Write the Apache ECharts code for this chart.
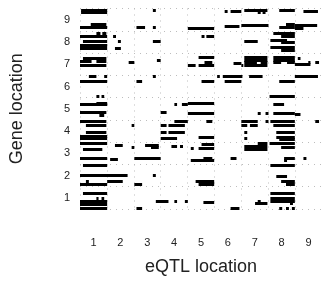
<!DOCTYPE html>
<html>
<head>
<meta charset="utf-8">
<script src="https://cdn.jsdelivr.net/npm/echarts@6/dist/echarts.min.js"></script>
<style>html,body{margin:0;padding:0;background:#fff;}#c{width:322px;height:281px;}</style>
</head>
<body>
<div id="c"></div>
<script>
// Tick labels (chromosomes)
const xLabels = ['1','2','3','4','5','6','7','8','9'];
const yLabels = ['1','2','3','4','5','6','7','8','9'];

// eQTL segments: start / end on the eQTL-location axis, gene location on the vertical axis
const eqtlStart = [
0.04,0.04,2.71,6.11,7.41,8.31,5.38,5.60,6.61,6.79,
0.40,0.00,2.10,2.71,4.01,5.38,6.00,7.41,7.66,7.99,
7.99,0.61,0.83,0.00,1.23,4.52,4.70,7.19,7.48,0.11,
1.41,2.71,6.11,7.08,7.48,0.00,0.00,1.30,7.08,7.48,
0.11,0.00,0.61,0.00,1.81,2.86,4.01,4.41,4.63,4.41,
5.71,6.00,6.11,6.11,6.11,6.72,6.11,7.19,7.19,7.19,
7.70,8.10,7.99,8.49,8.75,0.33,0.90,2.71,5.10,5.31,
6.29,7.99,0.00,2.10,4.52,5.38,7.41,0.61,0.80,7.05,
0.61,0.00,3.51,3.79,4.01,7.19,0.00,0.72,3.00,4.01,
6.61,6.90,7.19,7.99,0.00,3.51,4.70,6.00,6.90,7.08,
8.75,0.22,1.92,3.00,3.29,6.00,6.32,7.19,0.22,3.00,
3.29,6.11,7.30,0.00,0.00,3.00,4.41,6.11,7.30,7.41,
0.00,1.30,1.92,2.42,2.64,3.40,3.72,4.52,4.12,4.41,
6.61,6.11,6.11,7.05,7.48,0.11,0.00,1.12,2.02,4.12,
4.59,5.60,7.59,7.59,8.31,0.11,7.08,0.00,2.71,7.30,
0.22,1.01,4.30,7.48,0.00,2.02,4.41,7.66,0.11,7.08,
0.61,0.80,0.00,0.00,2.82,3.51,3.90,4.59,6.61,6.51,
7.08,7.08,7.81,0.00,2.10,5.60,7.41,7.66,7.88
];
const eqtlEnd = [
1.01,1.01,2.82,6.97,7.99,8.85,5.49,6.00,6.72,6.90,
0.98,1.01,2.42,2.82,4.99,5.93,7.01,7.99,7.99,8.82,
8.31,0.76,0.98,1.01,1.34,4.63,4.99,7.99,7.99,1.01,
1.52,3.00,6.61,7.70,7.99,1.01,1.01,1.52,7.99,7.99,
0.98,0.43,0.98,0.98,2.02,3.00,4.30,4.99,4.92,4.99,
6.00,6.07,6.97,6.97,6.58,6.97,6.97,7.99,7.99,7.48,
7.99,8.20,8.57,8.57,8.89,0.61,1.01,2.82,5.20,6.04,
6.79,8.85,1.01,2.31,4.99,6.00,7.99,0.72,0.90,7.99,
1.01,1.01,3.61,4.01,4.99,7.59,0.98,0.90,3.22,4.99,
6.72,7.01,7.99,8.20,0.98,4.01,4.92,6.61,7.01,7.99,
8.89,0.98,2.02,3.22,3.90,6.22,6.61,7.99,0.98,3.22,
3.90,6.22,7.99,1.01,1.01,3.61,4.99,6.22,7.99,7.99,
1.01,1.59,2.02,2.93,2.93,3.61,3.83,4.99,4.23,4.99,
6.97,6.97,6.97,7.99,7.99,0.83,1.01,1.41,3.00,4.99,
4.92,5.82,7.99,7.70,8.42,1.01,7.99,1.77,2.82,7.70,
0.33,1.59,4.99,7.99,1.01,2.31,4.99,7.99,1.01,7.99,
0.69,0.90,1.01,1.01,3.29,3.61,4.01,4.99,6.72,6.97,
7.99,7.99,7.92,1.01,2.31,5.93,7.52,7.77,7.99
];
const genePos = [
8.93,8.82,8.93,8.93,8.93,8.87,8.85,8.85,8.81,8.81,
8.27,8.14,8.16,8.16,8.08,8.17,8.25,8.16,8.27,8.25,
8.09,7.88,7.88,7.74,7.75,7.75,7.75,7.86,7.73,7.52,
7.52,7.53,7.51,7.58,7.47,7.32,7.21,7.19,7.25,7.12,
6.76,6.61,6.61,6.46,6.56,6.65,6.43,6.78,6.58,6.45,
6.55,6.45,6.78,6.67,6.56,6.56,6.46,6.78,6.67,6.56,
6.56,6.76,6.48,6.58,6.56,5.96,5.96,5.96,5.96,5.96,
5.96,5.96,5.74,5.74,5.74,5.74,5.74,5.03,5.03,5.04,
4.75,4.67,4.69,4.69,4.74,4.71,4.32,4.21,4.32,4.29,
4.29,4.29,4.29,4.26,3.95,3.94,3.92,3.92,3.92,3.95,
3.94,3.76,3.76,3.76,3.76,3.76,3.76,3.76,3.45,3.45,
3.45,3.45,3.45,3.26,3.16,3.16,3.23,3.16,3.23,3.11,
2.94,2.85,2.77,2.85,2.74,2.79,2.79,2.88,2.70,2.70,
2.94,2.79,2.66,2.94,2.77,2.68,2.25,2.21,2.25,2.17,
2.28,2.26,2.26,2.16,2.26,1.94,1.94,1.50,1.50,1.47,
1.25,1.25,1.25,1.25,1.08,1.08,1.08,1.08,0.70,0.70,
0.46,0.46,0.34,0.22,0.34,0.34,0.34,0.28,0.34,0.25,
0.47,0.34,0.25,0.02,0.02,0.02,0.04,0.04,0.04
];

const segments = eqtlStart.map((s, i) => [s, eqtlEnd[i], genePos[i]]);

const FONT = 'Liberation Sans, Arial, sans-serif';
const chart = echarts.init(document.getElementById('c'), null, {renderer: 'canvas'});
const gridLine = {show: true, lineStyle: {color: '#bdbdbd', width: 1, type: [1, 5]}};

chart.setOption({
  animation: false,
  backgroundColor: '#fff',
  grid: {left: 76, top: 8.5, width: 249, height: 208.7, containLabel: false},
  xAxis: [
    {
      type: 'category', data: xLabels, boundaryGap: true,
      axisLine: {show: false}, axisTick: {show: false},
      axisLabel: {margin: 28, fontSize: 11, color: '#222', fontFamily: FONT},
      splitLine: gridLine,
      name: 'eQTL location', nameLocation: 'middle', nameGap: 49,
      nameTextStyle: {fontSize: 18, color: '#222', fontFamily: FONT}
    },
    {type: 'value', min: 0, max: 9, show: false}
  ],
  yAxis: [
    {
      type: 'category', data: yLabels, boundaryGap: true,
      axisLine: {show: false}, axisTick: {show: false},
      axisLabel: {margin: 10, fontSize: 11, color: '#222', fontFamily: FONT},
      splitLine: gridLine,
      name: 'Gene location', nameLocation: 'middle', nameGap: 54, nameRotate: 90,
      nameTextStyle: {fontSize: 18, color: '#222', fontFamily: FONT}
    },
    {type: 'value', min: 0, max: 9, show: false}
  ],
  series: [{
    type: 'custom',
    xAxisIndex: 1, yAxisIndex: 1,
    data: segments,
    encode: {x: [0, 1], y: 2},
    clip: false,
    renderItem: function (params, api) {
      const a = api.coord([api.value(0), api.value(2)]);
      const b = api.coord([api.value(1), api.value(2)]);
      return {
        type: 'rect',
        shape: {x: a[0], y: Math.round(a[1] - 1.5), width: Math.max(b[0] - a[0], 2), height: 3},
        style: {fill: '#000'}
      };
    }
  }]
});
</script>
</body>
</html>
